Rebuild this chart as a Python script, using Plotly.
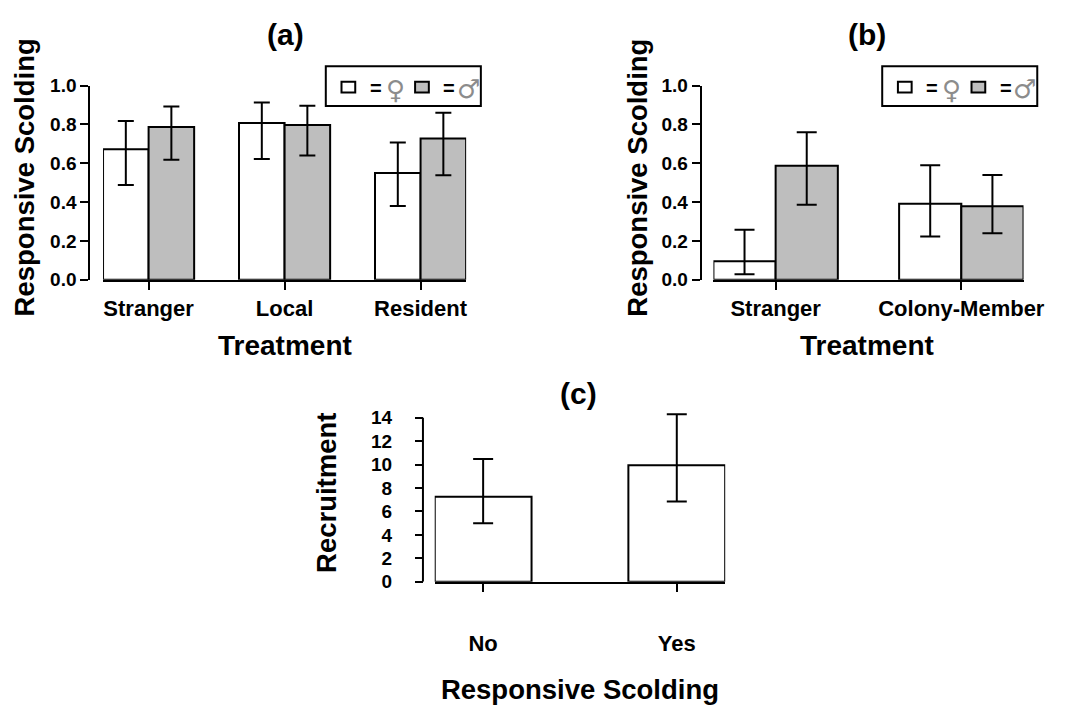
import plotly.graph_objects as go

# ---- data -------------------------------------------------------------
treat_a = ["Stranger", "Local", "Resident"]
female_a = [0.673, 0.808, 0.550]
female_a_hi = [0.818, 0.913, 0.707]
female_a_lo = [0.488, 0.622, 0.380]
male_a = [0.787, 0.798, 0.728]
male_a_hi = [0.893, 0.897, 0.860]
male_a_lo = [0.618, 0.640, 0.538]

treat_b = ["Stranger", "Colony-Member"]
female_b = [0.095, 0.392]
female_b_hi = [0.257, 0.590]
female_b_lo = [0.028, 0.223]
male_b = [0.587, 0.378]
male_b_hi = [0.760, 0.540]
male_b_lo = [0.387, 0.240]

scold_c = ["No", "Yes"]
recruit_c = [7.26, 9.94]
recruit_c_hi = [10.49, 14.30]
recruit_c_lo = [5.00, 6.85]

# ---- layout helpers ---------------------------------------------------
W, H = 1071, 705
FONT = "Liberation Sans, Arial, Helvetica, sans-serif"
WHITE, GREY = "#ffffff", "#bebebe"


def fx(px):
    return px / W


def fy(py):
    return 1 - py / H


def err(mean, hi, lo, cap):
    return dict(type="data", symmetric=False,
                array=[h - m for h, m in zip(hi, mean)],
                arrayminus=[m - l for m, l in zip(mean, lo)],
                color="black", thickness=2, width=cap)


def bar(x, y, hi, lo, fill, xa, ya, cap, **kw):
    return go.Bar(x=x, y=y, xaxis=xa, yaxis=ya, showlegend=False,
                  marker=dict(color=fill, line=dict(color="black", width=2)),
                  error_y=err(y, hi, lo, cap), **kw)


fig = go.Figure()
fig.add_trace(bar(treat_a, female_a, female_a_hi, female_a_lo, WHITE, "x", "y", 8))
fig.add_trace(bar(treat_a, male_a, male_a_hi, male_a_lo, GREY, "x", "y", 8))
fig.add_trace(bar(treat_b, female_b, female_b_hi, female_b_lo, WHITE, "x2", "y2", 10))
fig.add_trace(bar(treat_b, male_b, male_b_hi, male_b_lo, GREY, "x2", "y2", 10))
fig.add_trace(bar(scold_c, recruit_c, recruit_c_hi, recruit_c_lo, WHITE, "x3", "y3", 10,
                  width=0.5))

tickfont_y = dict(family=FONT, size=19, color="black", weight="bold")
tickfont_x = dict(family=FONT, size=22, color="black", weight="bold")
title_font = dict(family=FONT, size=27.5, color="black", weight="bold")

common_x = dict(type="category", showline=True, linecolor="black", linewidth=2,
                ticks="outside", ticklen=8, tickwidth=2, tickcolor="black",
                showgrid=False, zeroline=False, tickfont=tickfont_x, fixedrange=True)
common_y = dict(showline=True, linecolor="black", linewidth=2, ticks="outside",
                ticklen=8, tickwidth=2, tickcolor="black", showgrid=False,
                zeroline=False, tickfont=tickfont_y, anchor="free", fixedrange=True,
                ticklabelstandoff=0)

# panel (c): the value axis runs to 14, with headroom above for the top cap
C_Y0, C_PX_PER_UNIT, C_TOP = 589.3, 169.0 / 14, 14.8

fig.update_layout(
    width=W, height=H, margin=dict(l=0, r=0, t=0, b=0),
    paper_bgcolor="white", plot_bgcolor="white",
    barmode="group", bargap=0.33, bargroupgap=0,
    xaxis=dict(common_x, domain=[fx(105), fx(475)], range=[-0.335, 2.335],
               anchor="y", ticklabelstandoff=0),
    yaxis=dict(common_y, domain=[fy(278), fy(78)], range=[0, 1], dtick=0.2,
               tickformat=".1f", position=fx(91)),
    xaxis2=dict(common_x, domain=[fx(727), fx(1043)], range=[-0.335, 1.335],
                anchor="y2", ticklabelstandoff=0),
    yaxis2=dict(common_y, domain=[fy(278), fy(78)], range=[0, 1], dtick=0.2,
                tickformat=".1f", position=fx(714)),
    xaxis3=dict(common_x, domain=[fx(443), fx(739)], range=[-0.25, 1.25],
                anchor="y3", ticklabelstandoff=33,
                title=dict(text="Responsive Scolding", font=title_font, standoff=27)),
    yaxis3=dict(common_y, domain=[fy(C_Y0), fy(C_Y0 - C_TOP * C_PX_PER_UNIT)],
                range=[0, C_TOP], tick0=0, dtick=2, position=fx(431),
                showline=False, ticklabelstandoff=19),
)

# axis spine of panel (c), stopping at the last tick
fig.add_shape(type="line", xref="paper", yref="y3", x0=fx(431), x1=fx(431),
              y0=0, y1=14, line=dict(color="black", width=2))


# ---- titles -------------------------------------------------------------
def label(text, x, y, size, angle=0, color="black", weight="bold",
          family=FONT):
    fig.add_annotation(text=text, x=fx(x), y=fy(y), xref="paper", yref="paper",
                       showarrow=False, textangle=angle, xanchor="center",
                       yanchor="middle", borderpad=0,
                       font=dict(family=family, size=size, color=color, weight=weight))


label("(a)", 291, 25, 30)
label("(b)", 884, 25, 30)
label("(c)", 590, 395, 30)
label("Responsive Scolding", 25, 173, 27.5, angle=-90)
label("Responsive Scolding", 650, 173, 27.5, angle=-90)
label("Recruitment", 332, 498, 27.5, angle=-90)
label("Treatment", 290, 346, 28)
label("Treatment", 884, 346, 28)


# ---- sex key boxes --------------------------------------------------------
def key(x0):
    fig.add_shape(type="rect", xref="paper", yref="paper",
                  x0=fx(x0), x1=fx(x0 + 158), y0=fy(99), y1=fy(58),
                  line=dict(color="black", width=2), fillcolor="white")
    for dx, fill in ((16, WHITE), (91, GREY)):
        fig.add_shape(type="rect", xref="paper", yref="paper",
                      x0=fx(x0 + dx), x1=fx(x0 + dx + 14), y0=fy(85), y1=fy(74),
                      line=dict(color="black", width=2), fillcolor=fill)
    label("=", x0 + 51, 80, 20)
    label("=", x0 + 126, 80, 20)
    label("\u2640", x0 + 71, 82, 26, color="#8c8c8c", weight="normal",
          family="DejaVu Sans")
    label("\u2642", x0 + 145, 81, 26, color="#8c8c8c", weight="normal",
          family="DejaVu Sans")


key(332)
key(899)

fig.write_html("out.html")
